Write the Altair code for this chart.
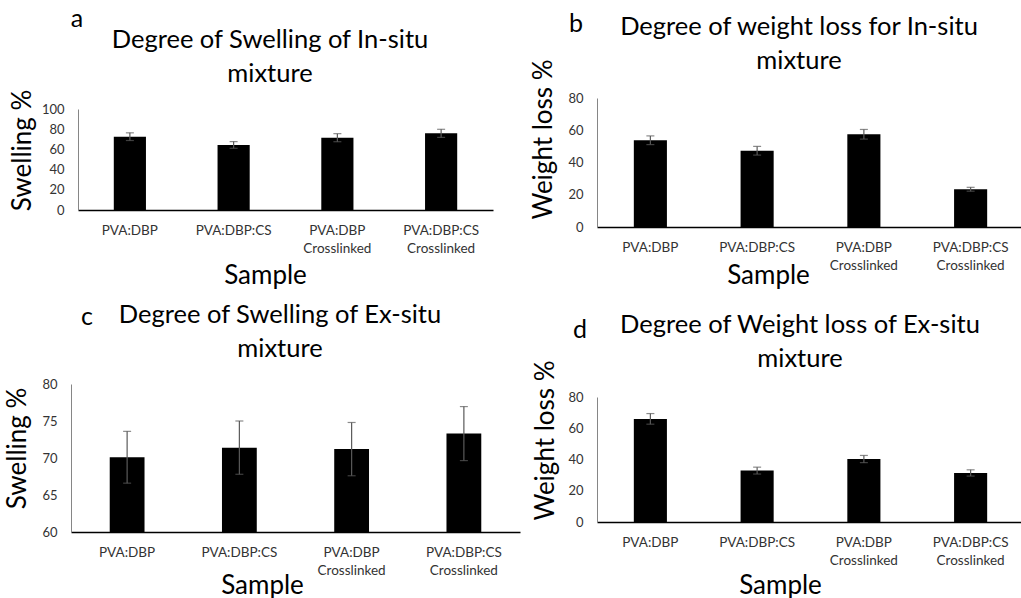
import altair as alt
import pandas as pd

# ---------------- data ----------------
samples = ["PVA:DBP", "PVA:DBP:CS", "PVA:DBP Crosslinked", "PVA:DBP:CS Crosslinked"]

swell_insitu = [72.6, 64.4, 71.6, 75.9]
swell_insitu_err = [3.8, 3.3, 4.0, 4.0]

wl_insitu = [53.8, 47.3, 57.5, 23.4]
wl_insitu_err = [2.7, 2.7, 3.0, 1.2]

swell_exsitu = [70.1, 71.4, 71.2, 73.3]
swell_exsitu_err = [3.5, 3.6, 3.6, 3.65]

wl_exsitu = [66.0, 32.9, 40.3, 31.4]
wl_exsitu_err = [3.4, 2.2, 2.3, 2.0]

panel_titles = [
    "Degree of Swelling of In-situ\nmixture",
    "Degree of weight loss for In-situ\nmixture",
    "Degree of Swelling of Ex-situ\nmixture",
    "Degree of Weight loss of Ex-situ\nmixture",
]
panel_letters = ["a", "b", "c", "d"]
y_titles = ["Swelling %", "Weight loss %", "Swelling %", "Weight loss %"]
x_title = "Sample"
y_domains = [[0, 100], [0, 80], [60, 80], [0, 80]]
y_ticks = [
    [0, 20, 40, 60, 80, 100],
    [0, 20, 40, 60, 80],
    [60, 65, 70, 75, 80],
    [0, 20, 40, 60, 80],
]

# ---------------- layout (pixels) ----------------
W, H = 1021, 598
FONT = "Lato"
layout = [
    dict(x0=78, x1=493, yb=210, yt=109, ytx=22, yty=150, xtx=265, xty=65, tx=270, ty=48, lx=77, ly=27),
    dict(x0=597, x1=1024, yb=227, yt=98, ytx=543, yty=139, xtx=768, xty=48, tx=799, ty=35, lx=576, ly=32),
    dict(x0=71, x1=520, yb=532, yt=384, ytx=17, yty=448, xtx=262, xty=53, tx=280, ty=323, lx=87, ly=325),
    dict(x0=597, x1=1024, yb=522, yt=397, ytx=545, yty=440, xtx=780, xty=63, tx=800, ty=333, lx=580, ly=338),
]

series = [
    (swell_insitu, swell_insitu_err),
    (wl_insitu, wl_insitu_err),
    (swell_exsitu, swell_exsitu_err),
    (wl_exsitu, wl_exsitu_err),
]


def make_panel(i):
    vals, errs = series[i]
    L = layout[i]
    dom = y_domains[i]
    df = pd.DataFrame({"sample": samples, "value": vals, "err": errs})
    base = alt.Chart(df).transform_calculate(
        lo="datum.value - datum.err", hi="datum.value + datum.err"
    )
    xscale = alt.Scale(domain=samples, range=[L["x0"], L["x1"]],
                       paddingInner=0.69, paddingOuter=0.345)
    xaxis = alt.Axis(
        orient="bottom", offset=L["yb"] - H, title=x_title,
        titleX=L["xtx"], titleY=L["xty"], titleBaseline="middle",
        titleFont=FONT, titleFontSize=26, titleFontWeight="normal", titleColor="black",
        labelAngle=0, labelExpr="split(datum.label, ' ')", labelFont=FONT,
        labelFontSize=13.5, labelLineHeight=18, labelPadding=13, labelColor="#333333",
        ticks=False, grid=False, domainColor="black", domainWidth=1.3,
    )
    yscale = alt.Scale(domain=dom, range=[L["yb"], L["yt"]], zero=False, nice=False)
    yaxis = alt.Axis(
        orient="left", offset=-L["x0"], values=y_ticks[i], title=y_titles[i],
        titleX=L["ytx"] - L["x0"], titleY=L["yty"], titleBaseline="middle", titleAlign="center",
        titleFont=FONT, titleFontSize=26, titleFontWeight="normal", titleColor="black",
        labelFont=FONT, labelFontSize=13, labelColor="#333333", labelPadding=14,
        ticks=False, grid=False, domainColor="#868686", domainWidth=1,
    )
    x_main = alt.X("sample:N", scale=xscale, axis=xaxis)
    bars = base.mark_bar(color="black").encode(
        x=x_main,
        y=alt.Y("value:Q", scale=yscale, axis=yaxis),
        y2=alt.datum(dom[0]),
    )
    rules = base.mark_rule(color="#5a5a5a", strokeWidth=1.2).encode(
        x=x_main,
        y=alt.Y("lo:Q", scale=yscale, axis=yaxis),
        y2="hi:Q",
    )
    cap_lo = base.mark_tick(color="#5a5a5a", size=8, thickness=1.2).encode(
        x=x_main, y=alt.Y("lo:Q", scale=yscale, axis=yaxis)
    )
    cap_hi = base.mark_tick(color="#5a5a5a", size=8, thickness=1.2).encode(
        x=x_main, y=alt.Y("hi:Q", scale=yscale, axis=yaxis)
    )
    return alt.layer(bars, rules, cap_lo, cap_hi)


def make_texts(i):
    L = layout[i]
    t = alt.Chart(pd.DataFrame({"t": [panel_titles[i]]})).mark_text(
        font=FONT, fontSize=25.5, color="black", align="center", baseline="alphabetic",
        lineBreak="\n", lineHeight=34,
    ).encode(text="t:N", x=alt.value(L["tx"]), y=alt.value(L["ty"]))
    l = alt.Chart(pd.DataFrame({"t": [panel_letters[i]]})).mark_text(
        font=FONT, fontSize=25, color="black", align="center", baseline="alphabetic",
    ).encode(text="t:N", x=alt.value(L["lx"]), y=alt.value(L["ly"]))
    return [t, l]


layers = [make_panel(i) for i in range(4)]
for i in range(4):
    layers += make_texts(i)

chart = alt.layer(*layers).resolve_scale(
    x="independent", y="independent"
).properties(
    width=W, height=H, autosize=alt.AutoSizeParams(type="none"), padding=0
).configure_view(stroke=None)

chart.save("out.html", embed_options={"renderer": "svg", "actions": False})
